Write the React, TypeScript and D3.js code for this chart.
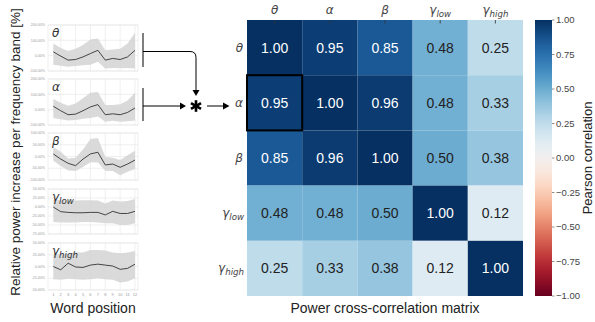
import React from "react";
import * as d3 from "d3";

// ---------- Data ----------
const wordPositions = [1, 2, 3, 4, 5, 6, 7, 8, 9, 10, 11, 12];

const thetaMean = [25, -3, -29, -25, -8, 14, 35, -29, -18, -25, -8, 35];
const thetaUpper = [79, 50, 30, 45, 70, 105, 112, 35, 40, 45, 79, 150];
const thetaLower = [-60, -65, -72, -68, -62, -60, -40, -83, -80, -82, -80, -83];
const thetaTicks = [200, 100, 0, -100];

const alphaMean = [22, -7, -33, -29, -7, 18, 33, -33, -27, -33, -18, 11];
const alphaUpper = [70, 45, 25, 40, 75, 110, 115, 30, 30, 35, 60, 110];
const alphaLower = [-55, -62, -70, -68, -60, -55, -45, -78, -72, -78, -75, -70];
const alphaTicks = [200, 100, 0, -100];

const betaMean = [11, -11, -29, -39, -11, 11, 18, -36, -32, -46, -32, -15];
const betaUpper = [39, 20, -8, -5, 30, 75, 79, -2, -5, -15, 5, 25];
const betaLower = [-18, -40, -60, -62, -45, -24, -25, -61, -62, -80, -65, -53];
const betaTicks = [100, 50, 0, -50, -100];

const gammaLowMean = [0, -13, -15, -16, -16, -15, -15, -22, -12, -18, -18, -12];
const gammaLowUpper = [20, 19, 18, 18, 19, 19, 18, 10, 18, 15, 17, 22];
const gammaLowLower = [-42, -43, -43, -43, -42, -42, -43, -45, -45, -50, -50, -45];
const gammaLowTicks = [50, 25, 0, -25, -50, -75];

const gammaHighMean = [0, -7, 7, -1, -2, 3, 5, 3, 1, -6, -4, 5];
const gammaHighUpper = [26, 26, 28, 30, 30, 35, 35, 34, 30, 28, 30, 33];
const gammaHighLower = [-27, -28, -26, -27, -28, -27, -25, -27, -28, -34, -32, -25];
const gammaHighTicks = [50, 25, 0, -25, -50];

const bandBase = ["θ", "α", "β", "γ", "γ"];
const bandSub = ["", "", "", "low", "high"];

const corrMatrix = [
  [1.0, 0.95, 0.85, 0.48, 0.25],
  [0.95, 1.0, 0.96, 0.48, 0.33],
  [0.85, 0.96, 1.0, 0.5, 0.38],
  [0.48, 0.48, 0.5, 1.0, 0.12],
  [0.25, 0.33, 0.38, 0.12, 1.0],
];
const colorbarTicks = [1, 0.75, 0.5, 0.25, 0, -0.25, -0.5, -0.75, -1];

// ---------- Layout ----------
const FONT = "'Liberation Sans', Arial, sans-serif";
const GREEK = "'DejaVu Sans', sans-serif";

const panelsLayout = [
  { top: 25, bottom: 71 },
  { top: 79, bottom: 125 },
  { top: 133, bottom: 180 },
  { top: 189, bottom: 234 },
  { top: 243, bottom: 290 },
];
const panelsData = [
  { mean: thetaMean, upper: thetaUpper, lower: thetaLower, ticks: thetaTicks },
  { mean: alphaMean, upper: alphaUpper, lower: alphaLower, ticks: alphaTicks },
  { mean: betaMean, upper: betaUpper, lower: betaLower, ticks: betaTicks },
  { mean: gammaLowMean, upper: gammaLowUpper, lower: gammaLowLower, ticks: gammaLowTicks },
  { mean: gammaHighMean, upper: gammaHighUpper, lower: gammaHighLower, ticks: gammaHighTicks },
];

const PANEL_LEFT = 48;
const PANEL_RIGHT = 138;

const HM_LEFT = 247;
const HM_TOP = 20;
const CELL = 55.2;

const CB_LEFT = 535;
const CB_RIGHT = 552;

function GreekLabel({ x, y, base, sub, size, anchor, fill }: any) {
  return (
    <text
      x={x}
      y={y}
      fontSize={size}
      fontStyle="italic"
      fontFamily={GREEK}
      textAnchor={anchor || "start"}
      fill={fill || "#333"}
    >
      {base}
      {sub ? (
        <tspan fontSize={size * 0.72} dy={size * 0.22}>
          {sub}
        </tspan>
      ) : null}
    </text>
  );
}

function MiniPanel({ idx }: { idx: number }) {
  const { top, bottom } = panelsLayout[idx];
  const d = panelsData[idx];
  const x = d3.scaleLinear().domain([1, 12]).range([53.3, 135]);
  const y = d3
    .scaleLinear()
    .domain([d3.min(d.ticks) as number, d3.max(d.ticks) as number])
    .range([bottom, top]);
  const area = d3
    .area<number>()
    .x((_, i) => x(wordPositions[i]))
    .y0((_, i) => y(d.lower[i]))
    .y1((_, i) => y(d.upper[i]));
  const line = d3
    .line<number>()
    .x((_, i) => x(wordPositions[i]))
    .y((v) => y(v));
  const vGrid = wordPositions.filter((p) => p % 2 === 0);
  return (
    <g>
      <rect
        x={PANEL_LEFT}
        y={top}
        width={PANEL_RIGHT - PANEL_LEFT}
        height={bottom - top}
        fill="white"
        stroke="#e3e3e3"
        strokeWidth={0.6}
      />
      {d.ticks.map((t) => (
        <line
          key={"h" + t}
          x1={PANEL_LEFT}
          x2={PANEL_RIGHT}
          y1={y(t)}
          y2={y(t)}
          stroke="#e6e6e6"
          strokeWidth={0.6}
        />
      ))}
      {vGrid.map((p) => (
        <line
          key={"v" + p}
          x1={x(p)}
          x2={x(p)}
          y1={top}
          y2={bottom}
          stroke="#e6e6e6"
          strokeWidth={0.6}
        />
      ))}
      <path d={area(d.mean) || ""} fill="#d4d4d4" opacity={0.85} />
      <path d={line(d.mean) || ""} fill="none" stroke="#333" strokeWidth={0.9} />
      {d.ticks.map((t) => (
        <text
          key={"t" + t}
          x={PANEL_LEFT - 3}
          y={y(t) + 1.2}
          fontSize={3.6}
          fill="#999"
          textAnchor="end"
          fontFamily={FONT}
        >
          {t.toFixed(2) + "%"}
        </text>
      ))}
      <GreekLabel
        x={PANEL_LEFT + 4}
        y={top + 12}
        base={bandBase[idx]}
        sub={bandSub[idx]}
        size={12}
      />
      {idx === 4
        ? wordPositions.map((p) => (
            <text
              key={"x" + p}
              x={x(p)}
              y={296}
              fontSize={4}
              fill="#999"
              textAnchor="middle"
              fontFamily={FONT}
            >
              {p}
            </text>
          ))
        : null}
    </g>
  );
}

export default function App() {
  const color = (v: number) => d3.interpolateRdBu((v + 1) / 2);
  const n = corrMatrix.length;
  const xBand = d3
    .scaleBand<number>()
    .domain(d3.range(n))
    .range([HM_LEFT, HM_LEFT + CELL * n]);
  const yBand = d3
    .scaleBand<number>()
    .domain(d3.range(n))
    .range([HM_TOP, HM_TOP + CELL * n]);
  const cbScale = d3
    .scaleLinear()
    .domain([-1, 1])
    .range([HM_TOP + CELL * n, HM_TOP]);
  const gradStops = d3.range(0, 1.0001, 0.05);

  const hlRow = 1;
  const hlCol = 0;

  return (
    <svg
      width={595}
      height={322}
      style={{ position: "absolute", left: 0, top: 0, background: "white" }}
      fontFamily={FONT}
    >
      <defs>
        <linearGradient id="cbgrad" x1="0" y1="1" x2="0" y2="0">
          {gradStops.map((t) => (
            <stop key={t} offset={t} stopColor={d3.interpolateRdBu(t)} />
          ))}
        </linearGradient>
      </defs>
      <rect x={0} y={0} width={595} height={322} fill="white" />

      {/* Y axis label */}
      <text
        transform="translate(20,152) rotate(-90)"
        fontSize={13.5}
        textAnchor="middle"
        fill="#222"
      >
        Relative power increase per frequency band [%]
      </text>

      {panelsLayout.map((_, i) => (
        <MiniPanel key={i} idx={i} />
      ))}

      <text x={93} y={313} fontSize={14} textAnchor="middle" fill="#222">
        Word position
      </text>

      {/* Brackets and arrows */}
      <g stroke="#000" strokeWidth={1} fill="none">
        <line x1={143} x2={143} y1={33} y2={67} />
        <path d="M143,51.5 H190 Q196,51.5 196,57.5 V91" />
        <line x1={143} x2={143} y1={88} y2={121} />
        <line x1={143} x2={180} y1={106} y2={106} />
        <line x1={207} x2={223} y1={106} y2={106} />
      </g>
      <g fill="#000">
        <path d="M192.5,90 L199.5,90 L196,96 Z" />
        <path d="M180,102.5 L180,109.5 L186,106 Z" />
        <path d="M223,102.5 L223,109.5 L229.5,106 Z" />
      </g>
      <g stroke="#000" strokeWidth={2.6} strokeLinecap="butt">
        {[90, 30, 150].map((a) => {
          const r = 5.8;
          const rad = (a * Math.PI) / 180;
          return (
            <line
              key={a}
              x1={196 - r * Math.cos(rad)}
              y1={106 - r * Math.sin(rad)}
              x2={196 + r * Math.cos(rad)}
              y2={106 + r * Math.sin(rad)}
            />
          );
        })}
      </g>

      {/* Heatmap */}
      {corrMatrix.map((row, r) =>
        row.map((v, c) => (
          <g key={r + "-" + c}>
            <rect
              x={xBand(c)}
              y={yBand(r)}
              width={xBand.bandwidth()}
              height={yBand.bandwidth()}
              fill={color(v)}
            />
            <text
              x={(xBand(c) as number) + xBand.bandwidth() / 2}
              y={(yBand(r) as number) + yBand.bandwidth() / 2 + 5}
              fontSize={14}
              textAnchor="middle"
              fill={v >= 0.6 ? "#fff" : "#222"}
            >
              {v.toFixed(2)}
            </text>
          </g>
        ))
      )}
      {d3.range(n).map((c) => (
        <line
          key={"ct" + c}
          x1={(xBand(c) as number) + xBand.bandwidth() / 2}
          x2={(xBand(c) as number) + xBand.bandwidth() / 2}
          y1={HM_TOP}
          y2={HM_TOP + 3.5}
          stroke="#333"
          strokeWidth={0.8}
        />
      ))}
      <rect
        x={xBand(hlCol)}
        y={yBand(hlRow)}
        width={xBand.bandwidth()}
        height={yBand.bandwidth()}
        fill="none"
        stroke="#000"
        strokeWidth={2}
      />
      {d3.range(n).map((c) => (
        <GreekLabel
          key={"hl" + c}
          x={(xBand(c) as number) + xBand.bandwidth() / 2}
          y={14}
          base={bandBase[c]}
          sub={bandSub[c]}
          size={12}
          anchor="middle"
          fill="#444"
        />
      ))}
      {d3.range(n).map((r) => (
        <GreekLabel
          key={"rl" + r}
          x={bandSub[r] ? 244 : 243}
          y={(yBand(r) as number) + yBand.bandwidth() / 2 + 4}
          base={bandBase[r]}
          sub={bandSub[r]}
          size={12}
          anchor="end"
          fill="#444"
        />
      ))}
      <text
        x={HM_LEFT + (CELL * n) / 2}
        y={313}
        fontSize={14}
        textAnchor="middle"
        fill="#222"
      >
        Power cross-correlation matrix
      </text>

      {/* Colorbar */}
      <rect
        x={CB_LEFT}
        y={HM_TOP}
        width={CB_RIGHT - CB_LEFT}
        height={CELL * n}
        fill="url(#cbgrad)"
      />
      {colorbarTicks.map((t) => (
        <g key={"cb" + t}>
          <line
            x1={CB_RIGHT}
            x2={CB_RIGHT + 2.5}
            y1={cbScale(t)}
            y2={cbScale(t)}
            stroke="#444"
            strokeWidth={0.6}
          />
          <text
            x={CB_RIGHT + 4}
            y={cbScale(t) + 3.3}
            fontSize={9.5}
            fill="#444"
          >
            {(t < 0 ? "\u2212" : "") + Math.abs(t).toFixed(2)}
          </text>
        </g>
      ))}
      <text
        transform={`translate(592,${HM_TOP + (CELL * n) / 2}) rotate(-90)`}
        fontSize={13}
        textAnchor="middle"
        fill="#222"
      >
        Pearson correlation
      </text>
    </svg>
  );
}
